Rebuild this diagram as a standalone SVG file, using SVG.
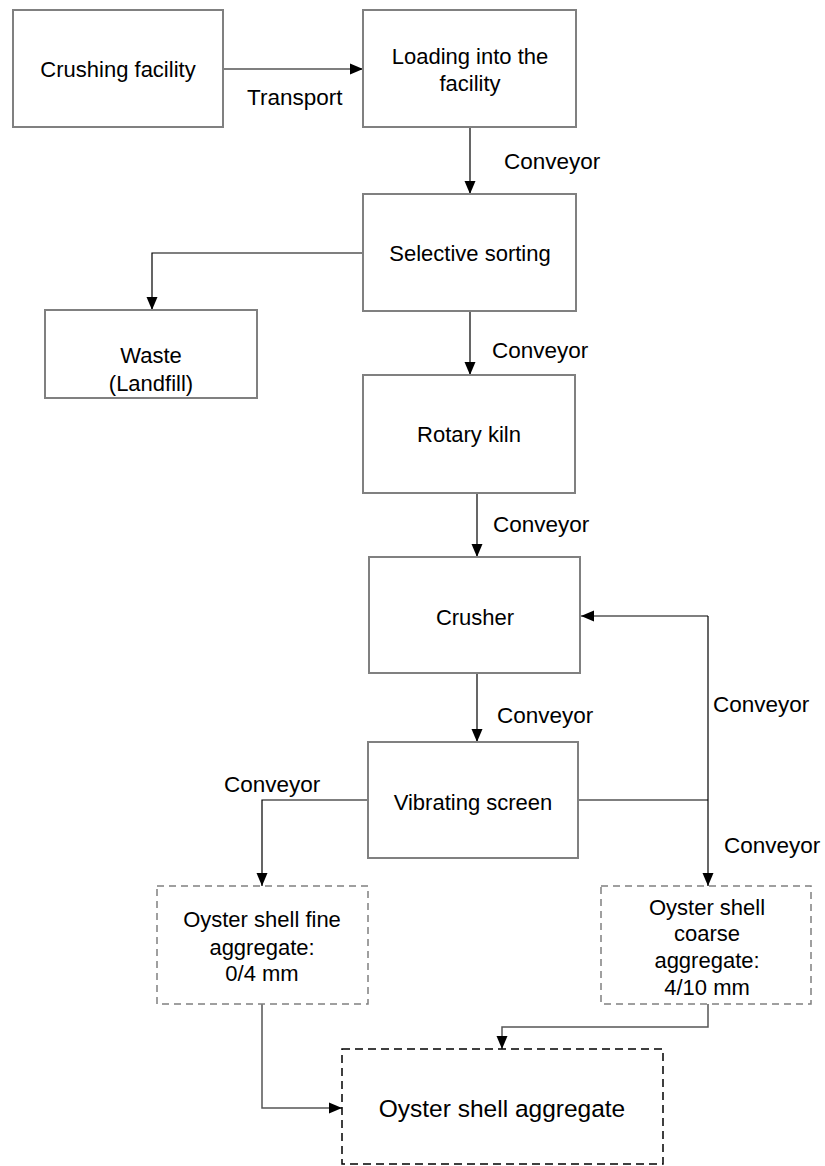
<svg xmlns="http://www.w3.org/2000/svg" width="825" height="1166" viewBox="0 0 825 1166">
<style>
.box{fill:#fff;stroke:#808080;stroke-width:2}
.dbox{fill:#fff;stroke:#808080;stroke-width:1.5;stroke-dasharray:7 5}
.fbox{fill:#fff;stroke:#000;stroke-width:1.5;stroke-dasharray:8 5}
.t{font-family:"Liberation Sans",Arial,sans-serif;font-size:22px;fill:#000;text-anchor:middle}
.l{font-family:"Liberation Sans",Arial,sans-serif;font-size:22.5px;fill:#000}
.big{font-size:24.5px}
.c{fill:none;stroke:#000;stroke-width:1.2}
.cg{fill:none;stroke:#555;stroke-width:1.5}
</style>
<defs>
<marker id="a" markerUnits="userSpaceOnUse" markerWidth="14" markerHeight="14" viewBox="0 0 14 14" refX="13" refY="7" orient="auto">
<path d="M0,1.5 L13,7 L0,12.5 Z" fill="#000"/>
</marker>
</defs>
<rect width="825" height="1166" fill="#fff"/>
<g id="connectors">
<path class="c" d="M223,69 H363" marker-end="url(#a)"/>
<path class="c" d="M470,127 V194" marker-end="url(#a)"/>
<path class="c" d="M363,253 H152 V310" marker-end="url(#a)"/>
<path class="c" d="M470,311 V375" marker-end="url(#a)"/>
<path class="c" d="M477,493 V557" marker-end="url(#a)"/>
<path class="c" d="M477,673 V742" marker-end="url(#a)"/>
<path class="c" d="M368,800 H262 V886" marker-end="url(#a)"/>
<path class="c" d="M578,800 H708"/>
<path class="c" d="M708,616 V886" marker-end="url(#a)"/>
<path class="c" d="M708,616 H581" marker-end="url(#a)"/>
<path class="cg" d="M262,1004 V1108 H342" marker-end="url(#a)"/>
<path class="cg" d="M708,1004 V1027 H502 V1049" marker-end="url(#a)"/>
<text class="l" x="247" y="105">Transport</text>
<text class="l" x="504" y="169">Conveyor</text>
<text class="l" x="492" y="358">Conveyor</text>
<text class="l" x="493" y="532">Conveyor</text>
<text class="l" x="497" y="723">Conveyor</text>
<text class="l" x="713" y="712">Conveyor</text>
<text class="l" x="224" y="792">Conveyor</text>
<text class="l" x="724" y="853">Conveyor</text>
</g>
<g id="crushing-facility">
<rect class="box" x="13" y="10" width="210" height="117"/>
<text class="t" x="118" y="77">Crushing facility</text>
</g>
<g id="loading">
<rect class="box" x="363" y="10" width="213" height="117"/>
<text class="t" x="470" y="64">Loading into the</text>
<text class="t" x="470" y="91">facility</text>
</g>
<g id="selective-sorting">
<rect class="box" x="363" y="194" width="213" height="117"/>
<text class="t" x="470" y="261">Selective sorting</text>
</g>
<g id="waste">
<rect class="box" x="45" y="310" width="212" height="88"/>
<text class="t" x="151" y="363">Waste</text>
<text class="t" x="151" y="391">(Landfill)</text>
</g>
<g id="rotary-kiln">
<rect class="box" x="363" y="375" width="212" height="118"/>
<text class="t" x="469" y="442">Rotary kiln</text>
</g>
<g id="crusher">
<rect class="box" x="369" y="557" width="211" height="116"/>
<text class="t" x="475" y="625">Crusher</text>
</g>
<g id="vibrating-screen">
<rect class="box" x="368" y="742" width="210" height="116"/>
<text class="t" x="473" y="810">Vibrating screen</text>
</g>
<g id="fine-aggregate">
<rect class="dbox" x="157" y="886" width="211" height="118"/>
<text class="t" x="262" y="927">Oyster shell fine</text>
<text class="t" x="262" y="955">aggregate:</text>
<text class="t" x="262" y="981">0/4 mm</text>
</g>
<g id="coarse-aggregate">
<rect class="dbox" x="601" y="886" width="210" height="118"/>
<text class="t" x="707" y="915">Oyster shell</text>
<text class="t" x="707" y="941">coarse</text>
<text class="t" x="707" y="968">aggregate:</text>
<text class="t" x="707" y="995">4/10 mm</text>
</g>
<g id="oyster-shell-aggregate">
<rect class="fbox" x="342" y="1049" width="321" height="115"/>
<text class="t big" x="502" y="1117">Oyster shell  aggregate</text>
</g>
</svg>
